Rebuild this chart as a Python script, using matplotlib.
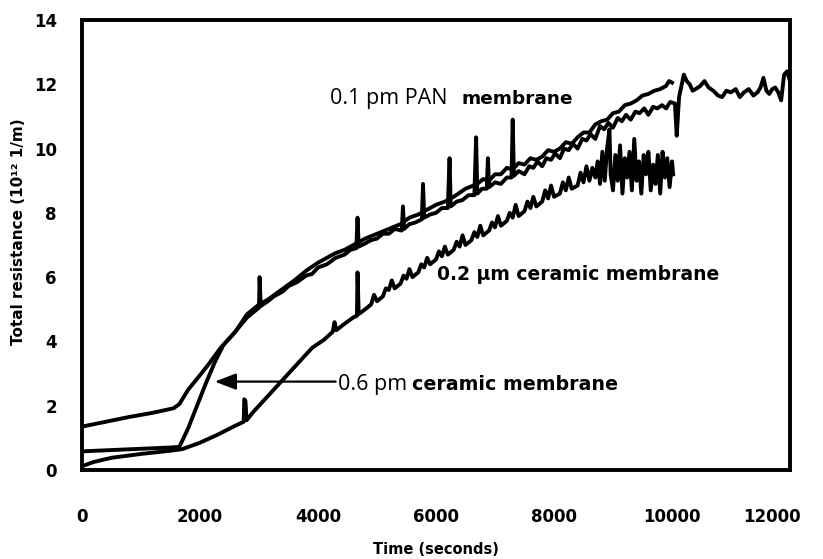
import matplotlib
matplotlib.use("Agg")
import matplotlib.pyplot as plt
import matplotlib.transforms as mtransforms
import numpy as np

# (time [s], total resistance [1e12 1/m]) read point by point
pan_01 = [
    (0, 1.35), (400, 1.5), (800, 1.65), (1200, 1.78), (1550, 1.92), (1650, 2.05),
    (1800, 2.5), (2000, 2.95), (2150, 3.3), (2350, 3.8), (2550, 4.2), (2800, 4.75),
    (3000, 5.05), (3010, 6.0), (3030, 5.1), (3150, 5.25), (3250, 5.4), (3400, 5.55),
    (3500, 5.72), (3650, 5.85), (3800, 6.05), (3900, 6.1), (4000, 6.3), (4150, 6.4),
    (4300, 6.6), (4450, 6.7), (4550, 6.85), (4650, 6.9), (4670, 7.85), (4690, 6.95),
    (4800, 7.05), (4900, 7.15), (5000, 7.2), (5100, 7.35), (5200, 7.35), (5300, 7.5),
    (5420, 7.45), (5440, 8.2), (5460, 7.5), (5550, 7.65), (5650, 7.7), (5760, 7.8),
    (5780, 8.9), (5800, 7.85), (5900, 7.95), (6000, 8.0), (6100, 8.15), (6200, 8.15),
    (6230, 9.7), (6250, 8.2), (6350, 8.35), (6450, 8.4), (6550, 8.55), (6650, 8.55),
    (6680, 10.35), (6700, 8.6), (6780, 8.75), (6860, 8.75), (6880, 9.7), (6900, 8.8),
    (7000, 8.95), (7100, 8.9), (7200, 9.1), (7280, 9.1), (7300, 10.9), (7320, 9.15),
    (7400, 9.3), (7500, 9.2), (7580, 9.45), (7650, 9.4), (7720, 9.6), (7800, 9.45),
    (7870, 9.7), (7950, 9.65), (8020, 9.85), (8100, 9.7), (8170, 10.0), (8250, 9.95),
    (8320, 10.15), (8400, 10.0), (8480, 10.3), (8550, 10.25), (8620, 10.45),
    (8700, 10.3), (8780, 10.7), (8850, 10.6), (8920, 10.8), (9000, 10.65),
    (9080, 10.95), (9150, 10.85), (9220, 11.05), (9300, 10.9), (9380, 11.15),
    (9450, 11.1), (9530, 11.25), (9600, 11.05), (9680, 11.3), (9750, 11.25),
    (9830, 11.35), (9900, 11.25), (9970, 11.45), (10050, 11.4), (10080, 10.4),
    (10120, 11.6), (10200, 12.3), (10250, 12.1), (10300, 12.0), (10350, 11.8),
    (10400, 11.85), (10480, 11.95), (10550, 12.1), (10620, 11.9), (10700, 11.8),
    (10780, 11.65), (10850, 11.6), (10920, 11.8), (11000, 11.75), (11080, 11.85),
    (11150, 11.6), (11220, 11.75), (11300, 11.85), (11380, 11.65), (11450, 11.75),
    (11500, 11.9), (11550, 12.2), (11600, 11.8), (11650, 11.7), (11700, 11.85),
    (11750, 11.9), (11800, 11.75), (11850, 11.5), (11900, 12.3), (11950, 12.4),
    (12000, 12.1),
]

ceramic_06 = [
    (0, 0.58), (500, 0.62), (1000, 0.66), (1500, 0.7), (1650, 0.72), (1800, 1.3),
    (1950, 2.0), (2100, 2.7), (2250, 3.35), (2400, 3.9), (2600, 4.3), (2800, 4.85),
    (3000, 5.15), (3150, 5.3), (3300, 5.5), (3450, 5.7), (3600, 5.9), (3800, 6.2),
    (4000, 6.45), (4150, 6.6), (4300, 6.75), (4450, 6.85), (4650, 7.05), (4800, 7.2),
    (5000, 7.35), (5200, 7.5), (5400, 7.65), (5550, 7.85), (5700, 7.95), (5850, 8.1),
    (6000, 8.25), (6150, 8.35), (6300, 8.5), (6500, 8.75), (6700, 8.9), (6800, 9.05),
    (6900, 9.0), (7000, 9.2), (7100, 9.2), (7200, 9.4), (7300, 9.35), (7400, 9.55),
    (7500, 9.5), (7600, 9.7), (7700, 9.65), (7800, 9.75), (7900, 9.95), (8000, 9.9),
    (8100, 10.0), (8200, 10.2), (8300, 10.15), (8400, 10.35), (8500, 10.5),
    (8600, 10.5), (8700, 10.75), (8800, 10.85), (8900, 10.9), (9000, 11.1),
    (9100, 11.15), (9200, 11.35), (9300, 11.4), (9400, 11.5), (9500, 11.65),
    (9600, 11.7), (9700, 11.8), (9800, 11.85), (9900, 11.95), (9950, 12.1),
    (10000, 12.05),
]

ceramic_02 = [
    (0, 0.12), (200, 0.25), (500, 0.38), (1000, 0.5), (1500, 0.6), (1700, 0.65),
    (2000, 0.85), (2300, 1.1), (2600, 1.38), (2740, 1.5), (2750, 2.2), (2770, 2.15),
    (2790, 1.55), (2900, 1.8), (3100, 2.2), (3300, 2.6), (3500, 3.0), (3700, 3.4),
    (3900, 3.8), (4100, 4.05), (4250, 4.3), (4280, 4.6), (4310, 4.35), (4450, 4.55),
    (4600, 4.75), (4660, 4.8), (4670, 6.15), (4690, 4.85), (4800, 5.0), (4900, 5.15),
    (4950, 5.45), (5000, 5.25), (5100, 5.4), (5150, 5.65), (5200, 5.6), (5250, 5.9),
    (5300, 5.65), (5400, 5.8), (5450, 6.05), (5500, 5.95), (5550, 6.25), (5600, 6.0),
    (5700, 6.15), (5750, 6.4), (5800, 6.3), (5850, 6.6), (5900, 6.4), (6000, 6.55),
    (6050, 6.8), (6100, 6.65), (6150, 6.95), (6200, 6.7), (6300, 6.85), (6350, 7.1),
    (6400, 6.95), (6450, 7.3), (6500, 7.0), (6600, 7.15), (6650, 7.4), (6700, 7.25),
    (6750, 7.6), (6800, 7.3), (6900, 7.45), (6950, 7.7), (7000, 7.55), (7050, 7.9),
    (7100, 7.6), (7200, 7.75), (7250, 8.0), (7300, 7.85), (7350, 8.25), (7400, 7.9),
    (7500, 8.05), (7550, 8.35), (7600, 8.15), (7650, 8.5), (7700, 8.2), (7800, 8.35),
    (7850, 8.7), (7900, 8.45), (7950, 8.85), (8000, 8.5), (8100, 8.6), (8150, 8.95),
    (8200, 8.7), (8250, 9.1), (8300, 8.75), (8400, 8.85), (8450, 9.25), (8500, 8.95),
    (8550, 9.45), (8600, 9.0), (8650, 9.4), (8700, 9.1), (8740, 9.6), (8780, 8.9),
    (8820, 9.9), (8860, 9.0), (8900, 10.0), (8940, 10.6), (8960, 9.2), (9000, 8.7),
    (9040, 9.8), (9080, 9.0), (9120, 10.1), (9160, 8.6), (9200, 9.7), (9240, 9.1),
    (9280, 9.9), (9320, 8.7), (9360, 10.3), (9400, 9.0), (9440, 9.6), (9480, 8.6),
    (9520, 9.8), (9560, 9.2), (9600, 9.9), (9640, 8.7), (9680, 9.5), (9720, 8.9),
    (9760, 9.8), (9800, 8.6), (9840, 9.9), (9880, 9.1), (9920, 9.7), (9960, 8.8),
    (10000, 9.6), (10020, 9.2),
]

x_ticks = [0, 2000, 4000, 6000, 8000, 10000, 12000]
y_ticks = [0, 2, 4, 6, 8, 10, 12, 14]

fig = plt.figure(figsize=(8.23, 5.59), dpi=100)
ax = fig.add_axes([82 / 823, 89 / 559, 708 / 823, 450 / 559])

for series in (pan_01, ceramic_06, ceramic_02):
    t, r = np.array(series).T
    ax.plot(t, r, color="black", lw=2.8, solid_joinstyle="round")

ax.set_xlim(0, 12000)
ax.set_ylim(0, 14)
ax.set_xticks(x_ticks)
ax.set_yticks(y_ticks)
ax.tick_params(axis="x", length=0, pad=27, labelsize=12)
ax.tick_params(axis="y", length=0, pad=18, labelsize=12)
for lbl in ax.get_xticklabels() + ax.get_yticklabels():
    lbl.set_fontweight("bold")

# the last time label sits a little inside the frame edge
last = ax.xaxis.get_major_ticks()[-1].label1
last.set_transform(last.get_transform()
                   + mtransforms.ScaledTranslation(-0.18, 0, fig.dpi_scale_trans))

for side in ax.spines.values():
    side.set_linewidth(2.8)

ax.set_xlabel("Time (seconds)", fontweight="bold", fontsize=10.5, labelpad=12)
ax.set_ylabel("Total resistance (10\u00b9\u00b2 1/m)", fontweight="bold", fontsize=11)
ax.yaxis.set_label_coords(-0.079, 0.53)

# curve labels: size in a light face, material in heavy type
ax.text(4200, 11.40, "0.1 pm PAN", family="Open Sans", fontsize=15.5, va="baseline")
ax.text(6440, 11.40, "membrane", fontweight="bold", fontsize=13.3, va="baseline")
ax.text(6017, 5.92, "0.2 \u00b5m ceramic membrane", fontweight="bold", fontsize=13.5,
        va="baseline")
ax.text(4339, 2.49, "0.6 pm", family="Open Sans", fontsize=15.5, va="baseline")
ax.text(5593, 2.49, "ceramic membrane", fontweight="bold", fontsize=13.7, va="baseline")

ax.annotate("", xy=(2250, 2.75), xytext=(4300, 2.75),
            arrowprops=dict(arrowstyle="-|>,head_length=0.65,head_width=0.25",
                            mutation_scale=20, lw=1.6, color="black",
                            shrinkA=0, shrinkB=0))

fig.savefig("out.png", dpi=100)
